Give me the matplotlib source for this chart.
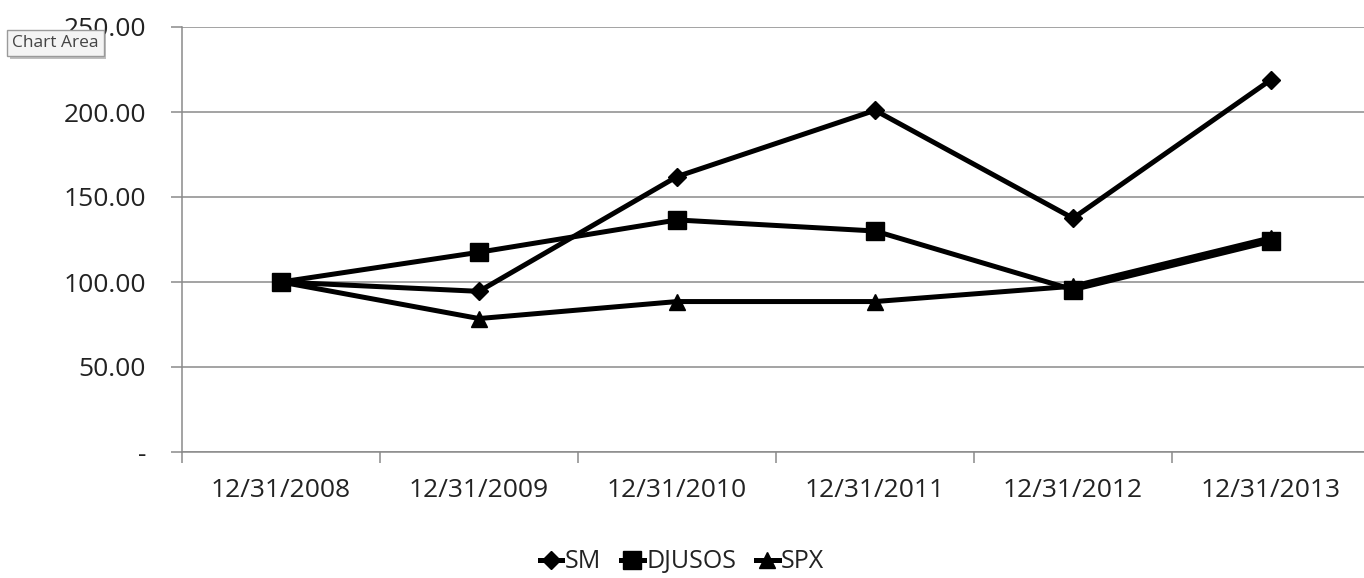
"""
Indexed performance: SM vs DJUSOS vs SPX (Excel-style line chart)
"""

import matplotlib.pyplot as plt
import matplotlib.patheffects as pe
import numpy as np

dates = ["12/31/2008", "12/31/2009", "12/31/2010",
         "12/31/2011", "12/31/2012", "12/31/2013"]

sm = [100.0, 94.5, 162.0, 201.0, 137.5, 219.0]
djusos = [100.0, 117.5, 136.5, 130.0, 95.5, 124.0]
spx = [100.0, 78.5, 88.5, 88.5, 97.5, 126.0]

yticks = [0, 50, 100, 150, 200, 250]

plt.rcParams['font.family'] = ['Open Sans', 'DejaVu Sans']

fig = plt.figure(figsize=(13.64, 5.78), dpi=100)
ax = fig.add_axes([182 / 1364, 126 / 578, 1188 / 1364, 425 / 578])

x = np.arange(len(dates))
ax.plot(x, sm, color='black', lw=3.6, marker='D', ms=9, label='SM')
ax.plot(x, djusos, color='black', lw=3.6, marker='s', ms=13, label='DJUSOS')
ax.plot(x, spx, color='black', lw=3.6, marker='^', ms=12, label='SPX')

ax.set_xlim(-0.5, len(dates) - 0.5)
ax.set_ylim(0, 250)

ax.set_yticks(yticks)
ax.set_yticklabels(['-' if v == 0 else f"{v:.2f}" for v in yticks],
                   fontsize=19, color='#222222')
ax.yaxis.grid(True, color='#8a8a8a', lw=1.1)
ax.set_axisbelow(True)

# category labels in the middle, ticks on boundaries
ax.set_xticks(x)
ax.set_xticklabels(dates, fontsize=19, color='#222222')
ax.tick_params(axis='x', which='major', length=0, pad=19)
ax.set_xticks(np.arange(-0.5, len(dates)), minor=True)
ax.tick_params(axis='x', which='minor', length=8, color='#8a8a8a', width=1.1)
ax.tick_params(axis='y', length=8, color='#8a8a8a', width=1.1, pad=18)

for side in ['top', 'right']:
    ax.spines[side].set_visible(False)
for side in ['left', 'bottom']:
    ax.spines[side].set_color('#8a8a8a')
    ax.spines[side].set_linewidth(1.1)

leg = fig.legend(loc='center', bbox_to_anchor=(0.5, 0.028), ncol=3,
                 frameon=False, fontsize=18, handlelength=0.9,
                 handletextpad=0.1, columnspacing=0.8, markerscale=1.0,
                 borderpad=0.1)
for t in leg.get_texts():
    t.set_color('#222222')

# the Excel tooltip sitting over the top-left of the chart
tip = fig.text(12 / 1364, 1 - 43 / 578, "Chart Area", fontsize=12.5,
               color='#444444', va='center', ha='left', zorder=10,
               bbox=dict(boxstyle='square,pad=0.3', fc='#f4f4f4',
                         ec='#9a9a9a', lw=1))
tip.get_bbox_patch().set_path_effects(
    [pe.SimplePatchShadow(offset=(2, -2), alpha=0.35), pe.Normal()])

fig.savefig("out.png", dpi=100)
